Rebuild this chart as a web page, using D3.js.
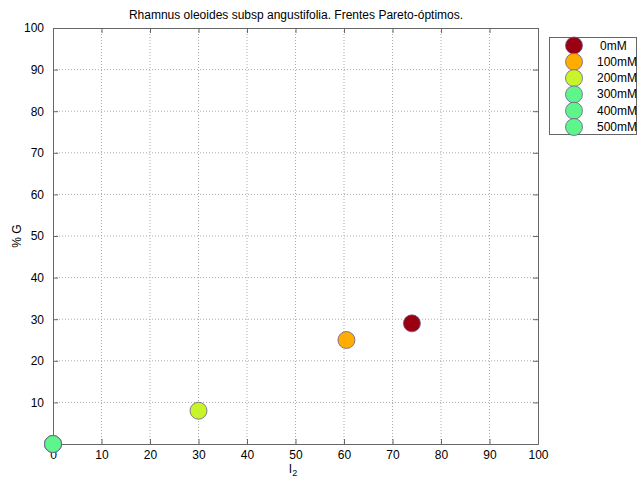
<!DOCTYPE html>
<html><head><meta charset="utf-8">
<script src="https://cdn.jsdelivr.net/npm/d3@7"></script>
<style>body{margin:0;background:#fff}svg{display:block;font-family:"Liberation Sans",Arial,sans-serif}</style>
</head><body><svg id="c" width="639" height="485"></svg>
<script>
const seriesNames = ["0mM","100mM","200mM","300mM","400mM","500mM"];
const xValues = [74, 60.5, 30, 0, 0, 0];
const yValues = [29, 25, 8, 0, 0, 0];
const colors = ["#9b0012","#ffad00","#c8f52a","#5ef58a","#5ef58a","#5ef58a"];
const xTicks = [0,10,20,30,40,50,60,70,80,90,100];
const yTicks = [10,20,30,40,50,60,70,80,90,100];

const svg = d3.select("#c");
const L=53,R=538,T=28,B=444;
const x = d3.scaleLinear().domain([0,100]).range([L,R]);
const y = d3.scaleLinear().domain([0,100]).range([B,T]);

svg.append("rect").attr("x",L).attr("y",T).attr("width",R-L).attr("height",B-T).attr("fill","#fff");
// grid
const g = svg.append("g");
g.selectAll("line.vx").data(xTicks.slice(1,-1)).join("line")
 .attr("x1",d=>x(d)).attr("x2",d=>x(d)).attr("y1",T).attr("y2",B)
 .attr("stroke","#aaa").attr("stroke-dasharray","1,2").attr("stroke-width",1);
g.selectAll("line.hy").data(yTicks.slice(0,-1)).join("line")
 .attr("y1",d=>y(d)).attr("y2",d=>y(d)).attr("x1",L).attr("x2",R)
 .attr("stroke","#aaa").attr("stroke-dasharray","1,2").attr("stroke-width",1);

// axes
const xa = svg.append("g").attr("transform",`translate(0,${B})`)
 .call(d3.axisBottom(x).tickValues(xTicks).tickSize(-5).tickPadding(6).tickFormat(d3.format("d")));
const xa2 = svg.append("g").attr("transform",`translate(0,${T})`)
 .call(d3.axisTop(x).tickValues(xTicks).tickSize(-5).tickFormat(""));
const ya = svg.append("g").attr("transform",`translate(${L},0)`)
 .call(d3.axisLeft(y).tickValues(yTicks).tickSize(-5).tickPadding(9).tickFormat(d3.format("d")));
const ya2 = svg.append("g").attr("transform",`translate(${R},0)`)
 .call(d3.axisRight(y).tickValues(yTicks).tickSize(-5).tickFormat(""));
[xa,xa2,ya,ya2].forEach(a=>{
 a.select(".domain").attr("stroke","#666");
 a.selectAll(".tick line").attr("stroke","#666");
 a.selectAll("text").attr("fill","#000").attr("font-size","12px").attr("font-family","Liberation Sans, Arial, sans-serif");
});

// points
const pts = seriesNames.map((n,i)=>({n,x:xValues[i],y:yValues[i],c:colors[i]}));
svg.append("g").selectAll("circle").data(pts).join("circle")
 .attr("cx",d=>x(d.x)).attr("cy",d=>y(d.y)).attr("r",8.5)
 .attr("fill",d=>d.c).attr("stroke","#6a5a90").attr("stroke-width",0.8);

// title
svg.append("text").attr("x",296).attr("y",19).attr("text-anchor","middle").attr("font-size","12px").text("Rhamnus oleoides subsp angustifolia. Frentes Pareto-óptimos.");
// x label
const xl = svg.append("text").attr("x",293).attr("y",473).attr("text-anchor","middle").attr("font-size","12px");
xl.append("tspan").text("I");
xl.append("tspan").attr("dy",3).attr("font-size","9px").text("2");
// y label
svg.append("text").attr("transform","translate(21,236) rotate(-90)").attr("text-anchor","middle").attr("font-size","12px").text("% G");

// legend
const lg = svg.append("g");
lg.append("rect").attr("x",549.5).attr("y",37.5).attr("width",87).attr("height",97).attr("fill","#fff").attr("stroke","#666");
const ent = lg.selectAll("g").data(pts).join("g").attr("transform",(d,i)=>`translate(0,${45.5+i*16.3})`);
ent.append("circle").attr("cx",574).attr("cy",0).attr("r",8.5).attr("fill",d=>d.c).attr("stroke","#6a5a90").attr("stroke-width",0.8);
ent.append("text").attr("x",(d,i)=>i===0?600:597).attr("y",4).attr("font-size","12px").text(d=>d.n);
</script></body></html>
